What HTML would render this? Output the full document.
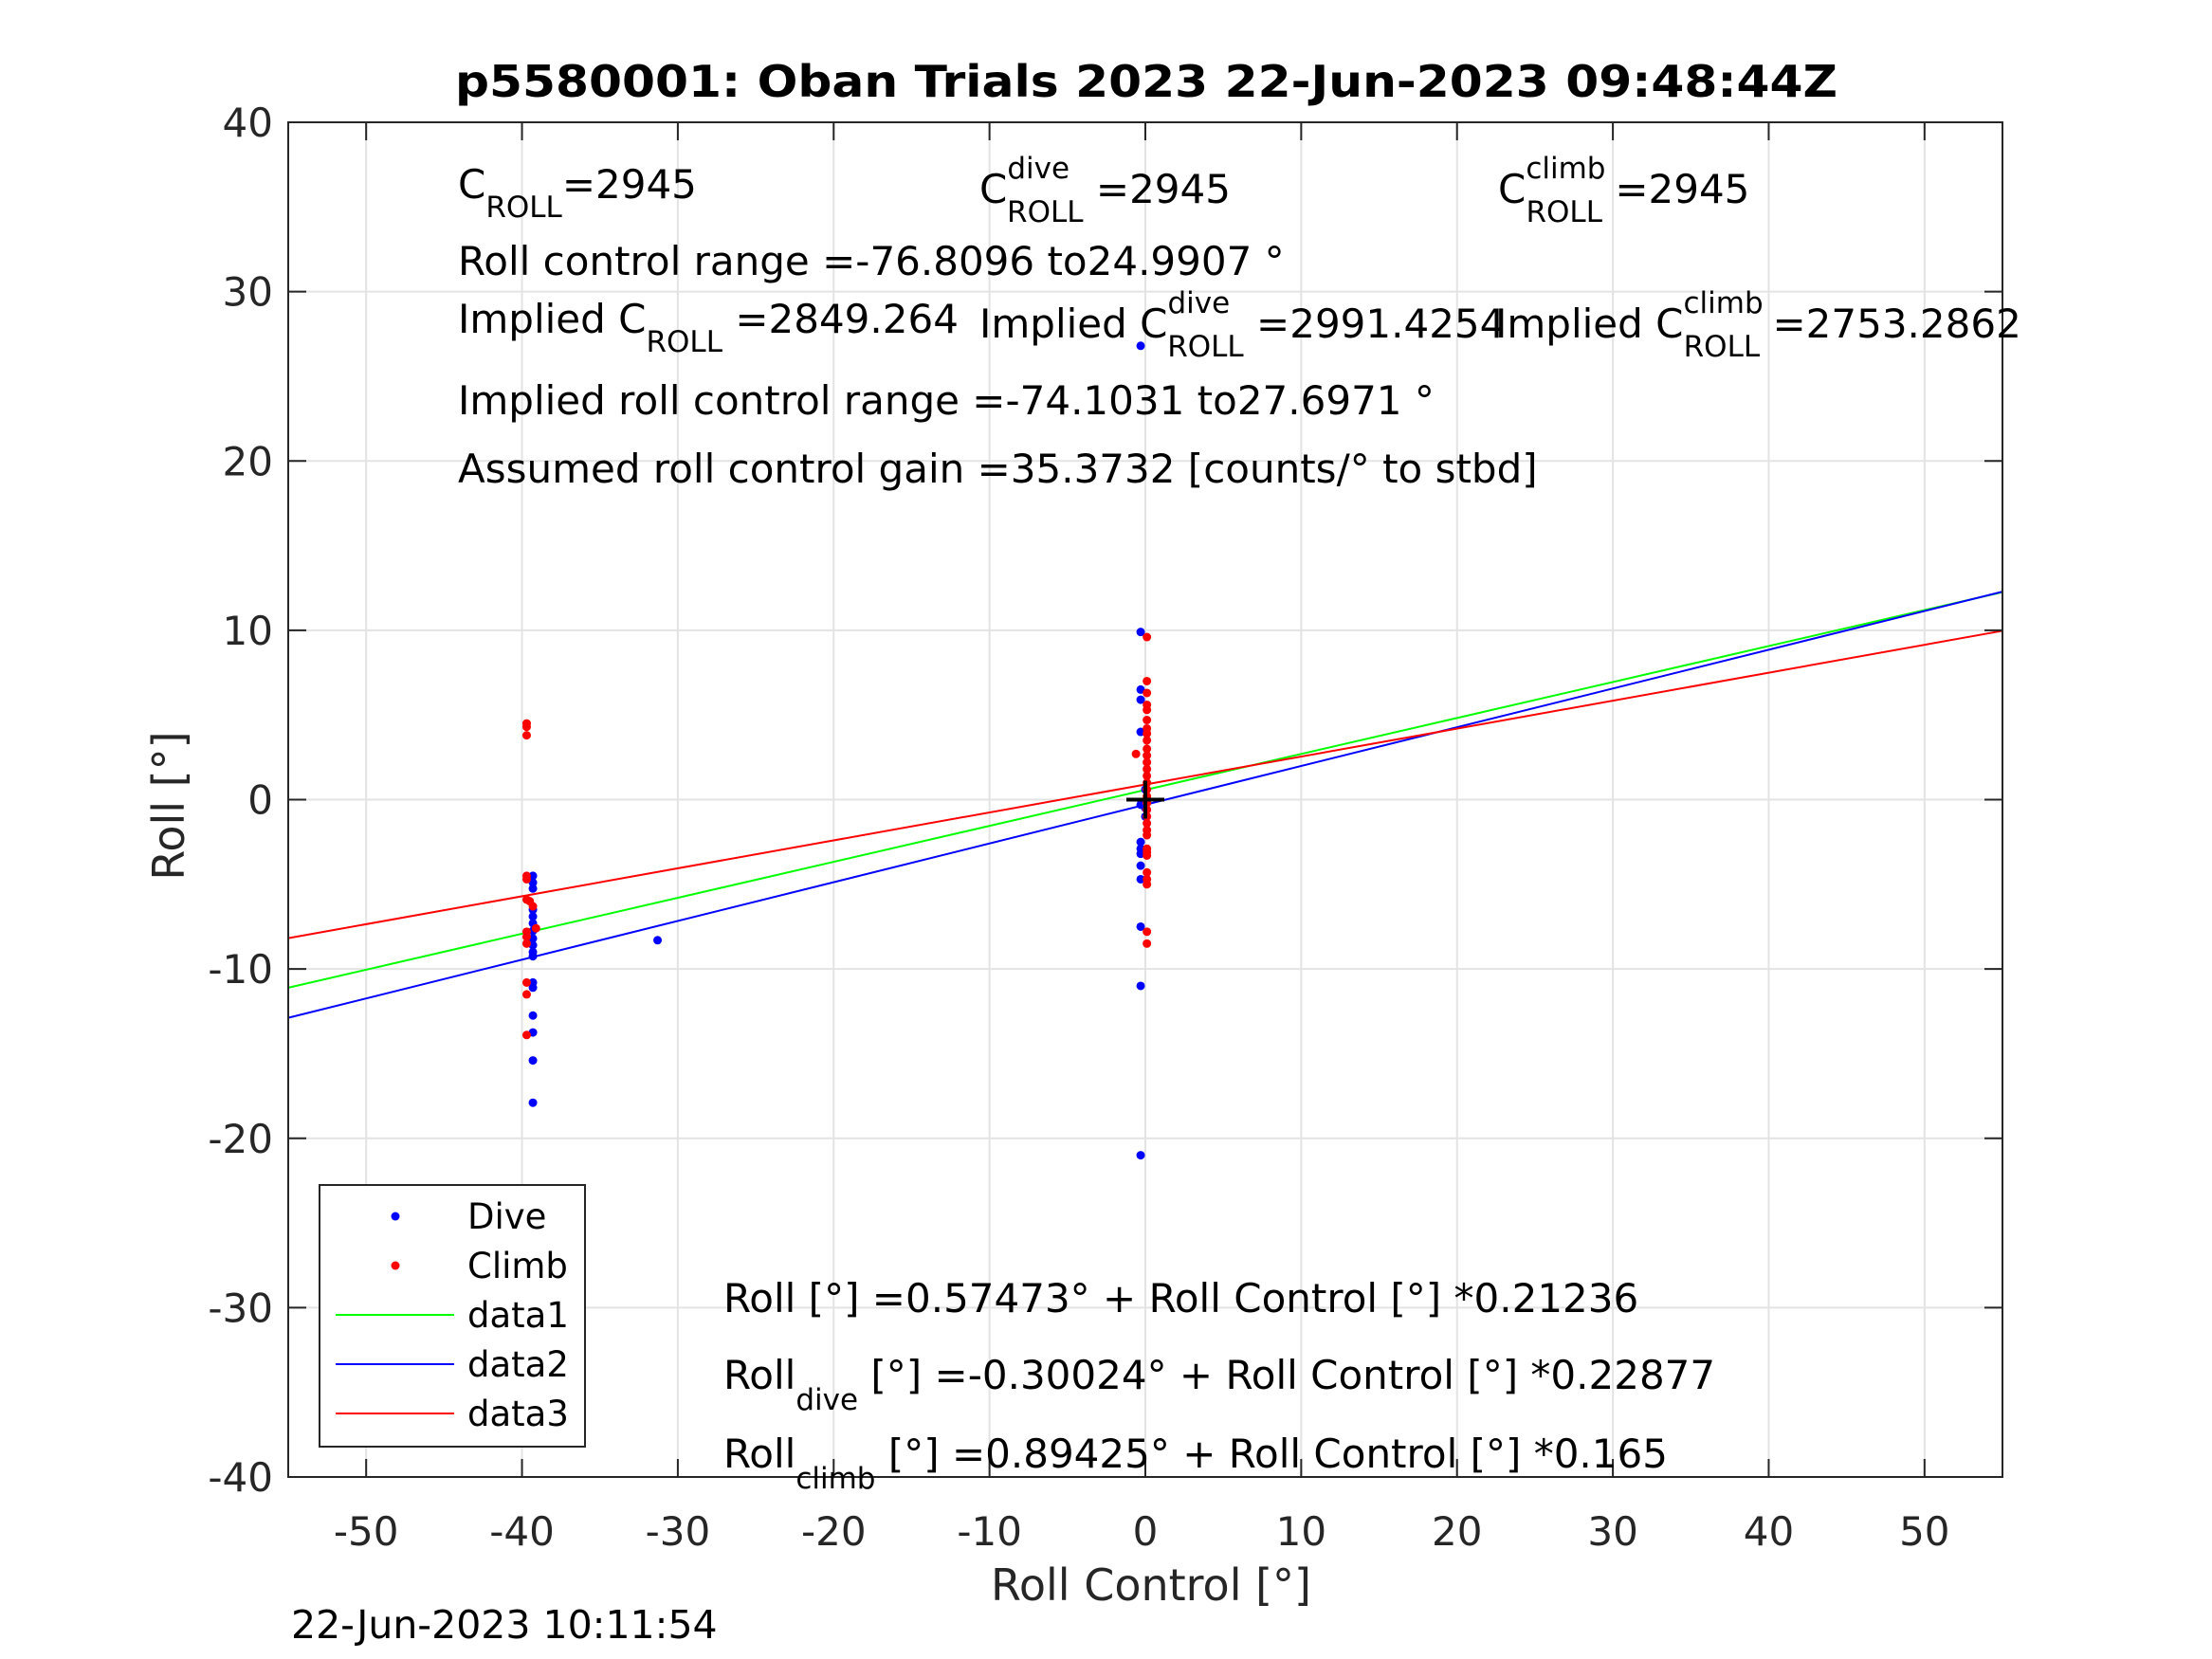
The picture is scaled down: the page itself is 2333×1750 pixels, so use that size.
<!DOCTYPE html>
<html><head><meta charset="utf-8">
<style>
html,body{margin:0;padding:0;background:#fff;}
svg{display:block;font-family:"DejaVu Sans","Liberation Sans",sans-serif;}
</style></head>
<body>
<svg id="chart" width="2333" height="1750" viewBox="0 0 2333 1750" xmlns="http://www.w3.org/2000/svg">
<rect width="2333" height="1750" fill="#fff"/>
<g id="grid"></g>
<g id="lines"></g>
<g id="points"></g>
<g id="axes"></g>
<text x="1209" y="102" text-anchor="middle" font-weight="bold" font-size="46" textLength="1458" lengthAdjust="spacingAndGlyphs" fill="#000">p5580001: Oban Trials 2023 22-Jun-2023 09:48:44Z</text>

<g font-size="42" fill="#000">
<text x="483" y="209">C<tspan font-size="31" dy="20">ROLL</tspan><tspan dy="-20">=2945</tspan></text>
<text x="1033" y="214">C<tspan font-size="31" dy="-26">dive</tspan><tspan font-size="31" dx="-66" dy="46">ROLL</tspan><tspan dy="-20"> =2945</tspan></text>
<text x="1580" y="214">C<tspan font-size="31" dy="-26">climb</tspan><tspan font-size="31" dx="-84" dy="46">ROLL</tspan><tspan dy="-20"> =2945</tspan></text>
<text x="483" y="290">Roll control range =-76.8096 to24.9907 °</text>
<text x="483" y="351">Implied C<tspan font-size="31" dy="20">ROLL</tspan><tspan dy="-20"> =2849.264</tspan></text>
<text x="1033" y="356">Implied C<tspan font-size="31" dy="-26">dive</tspan><tspan font-size="31" dx="-66" dy="46">ROLL</tspan><tspan dy="-20"> =2991.4254</tspan></text>
<text x="1577" y="356">Implied C<tspan font-size="31" dy="-26">climb</tspan><tspan font-size="31" dx="-84" dy="46">ROLL</tspan><tspan dy="-20"> =2753.2862</tspan></text>
<text x="483" y="437">Implied roll control range =-74.1031 to27.6971 °</text>
<text x="483" y="509">Assumed roll control gain =35.3732 [counts/° to stbd]</text>
<text x="763" y="1384">Roll [°] =0.57473° + Roll Control [°] *0.21236</text>
<text x="763" y="1465">Roll<tspan font-size="31" dy="22">dive</tspan><tspan dy="-22"> [°] =-0.30024° + Roll Control [°] *0.22877</tspan></text>
<text x="763" y="1548">Roll<tspan font-size="31" dy="22">climb</tspan><tspan dy="-22"> [°] =0.89425° + Roll Control [°] *0.165</tspan></text>
</g>

<g>
<rect x="337" y="1250" width="280" height="276" fill="#fff" stroke="#262626" stroke-width="2"/>
<circle cx="417" cy="1283" r="4.5" fill="#0000ff"/>
<text x="493" y="1296" font-size="37">Dive</text>
<circle cx="417" cy="1335" r="4.5" fill="#ff0000"/>
<text x="493" y="1348" font-size="37">Climb</text>
<line x1="354" y1="1387" x2="479" y2="1387" stroke="#00ff00" stroke-width="2"/>
<text x="493" y="1400" font-size="37">data1</text>
<line x1="354" y1="1439" x2="479" y2="1439" stroke="#0000ff" stroke-width="2"/>
<text x="493" y="1452" font-size="37">data2</text>
<line x1="354" y1="1491" x2="479" y2="1491" stroke="#ff0000" stroke-width="2"/>
<text x="493" y="1504" font-size="37">data3</text>
</g>

<text x="1214" y="1688" text-anchor="middle" font-size="46" fill="#262626">Roll Control [°]</text>
<text transform="translate(194,850) rotate(-90)" text-anchor="middle" font-size="46" fill="#262626">Roll [°]</text>
<text x="307" y="1728" font-size="41" fill="#000">22-Jun-2023 10:11:54</text>
</svg>
<script>
const xTicks = [-50,-40,-30,-20,-10,0,10,20,30,40,50];
const yTicks = [-40,-30,-20,-10,0,10,20,30,40];
const xDomain = [-55,55];
const yDomain = [-40,40];
const diveX = [-39.3,-39.3,-39.3,-39.3,-39.3,-39.3,-39.3,-39.3,-39.3,-39.3,-39.3,-39.3,-39.3,-39.3,-39.3,-39.3,-39.3,-31.3,-0.3,-0.3,-0.3,-0.3,-0.3,-0.3,-0.3,-0.3,-0.3,-0.3,-0.3,-0.3,-0.3,-0.3,0,0,0];
const diveY = [-4.5,-4.9,-5.25,-6.5,-6.9,-7.3,-7.75,-8.2,-8.6,-9,-9.25,-10.8,-11.1,-12.75,-13.75,-15.4,-17.9,-8.3,26.8,9.9,6.5,5.9,4,-2.5,-2.9,-3.2,-3.9,-4.7,-7.5,-11,-21,-0.3,-0.5,-1,0.6];
const climbX = [-39.7,-39.7,-39.7,-39.7,-39.7,-39.7,-39.5,-39.3,-39.7,-39.7,-39.7,-39.7,-39.7,-39.7,-39.1,-0.6,0.1,0.1,0.1,0.1,0.1,0.1,0.1,0.1,0.1,0.1,0.1,0.1,0.1,0.1,0.1,0.1,0.1,0.1,0.1,0.1,0.1,0.1,0.1,0.1,0.1,0.1,0.1,0.1,0.1,0.1,0.1];
const climbY = [4.5,4.3,3.8,-4.5,-4.7,-5.9,-6,-6.3,-7.8,-8.1,-8.5,-10.8,-11.5,-13.9,-7.6,2.7,9.6,7,6.3,5.6,5.3,4.7,4.2,3.9,3.5,3,2.6,2.2,1.8,1.4,1.0,0.6,0.2,-0.2,-0.6,-1,-1.4,-1.8,-2.1,-2.9,-3.1,-3.3,-4.3,-4.7,-5,-7.8,-8.5];
const fitNames = ['data1','data2','data3'];
const fitIntercepts = [0.57473,-0.30024,0.89425];
const fitSlopes = [0.21236,0.22877,0.165];
const fitColors = ['#00ff00','#0000ff','#ff0000'];

const L=304, R=2112, T=129, B=1558;
const NS='http://www.w3.org/2000/svg';
function sx(v){return L+(v-xDomain[0])/(xDomain[1]-xDomain[0])*(R-L);}
function sy(v){return B-(v-yDomain[0])/(yDomain[1]-yDomain[0])*(B-T);}
function mk(tag,attrs,parent){const e=document.createElementNS(NS,tag);for(const k in attrs)e.setAttribute(k,attrs[k]);parent.appendChild(e);return e;}
const grid=document.getElementById('grid'), axes=document.getElementById('axes'), lines=document.getElementById('lines'), pts=document.getElementById('points');

xTicks.forEach(t=>{
  const g=mk('line',{x1:sx(t),x2:sx(t),y1:T,y2:B,stroke:'#e3e3e3','stroke-width':2},grid);
  
  
  const a=mk('line',{x1:sx(t),x2:sx(t),y1:B,y2:B-19,stroke:'#262626','stroke-width':2},axes);
  
  
  const b=mk('line',{x1:sx(t),x2:sx(t),y1:T,y2:T+19,stroke:'#262626','stroke-width':2},axes);
  
  
  const tx=mk('text',{x:sx(t),y:1630,'text-anchor':'middle','font-size':42,fill:'#262626'},axes);
  tx.textContent=String(t);
  
  
});
yTicks.forEach(t=>{
  const g=mk('line',{x1:L,x2:R,y1:sy(t),y2:sy(t),stroke:'#e3e3e3','stroke-width':2},grid);
  
  
  const a=mk('line',{x1:L,x2:L+19,y1:sy(t),y2:sy(t),stroke:'#262626','stroke-width':2},axes);
  
  
  const b=mk('line',{x1:R,x2:R-19,y1:sy(t),y2:sy(t),stroke:'#262626','stroke-width':2},axes);
  
  
  const tx=mk('text',{x:288,y:sy(t)+15,'text-anchor':'end','font-size':42,fill:'#262626'},axes);
  tx.textContent=String(t);
  
  
});
const box=mk('rect',{x:L,y:T,width:R-L,height:B-T,fill:'none',stroke:'#262626','stroke-width':2},axes);



fitNames.forEach((n,i)=>{
  const x0=xDomain[0], x1=xDomain[1];
  const l=mk('line',{x1:sx(x0),y1:sy(fitIntercepts[i]+fitSlopes[i]*x0),x2:sx(x1),y2:sy(fitIntercepts[i]+fitSlopes[i]*x1),stroke:fitColors[i],'stroke-width':2},lines);
  
  
});
diveX.forEach((x,i)=>{
  const c=mk('circle',{cx:sx(x),cy:sy(diveY[i]),r:4.5,fill:'#0000ff'},pts);
  
  
});
climbX.forEach((x,i)=>{
  const c=mk('circle',{cx:sx(x),cy:sy(climbY[i]),r:4.5,fill:'#ff0000'},pts);
  
  
});
const ch=mk('path',{d:`M${sx(0)-20},${sy(0)}H${sx(0)+20}M${sx(0)},${sy(0)-20}V${sy(0)+20}`,stroke:'#000','stroke-width':4},pts);


</script>
</body></html>
